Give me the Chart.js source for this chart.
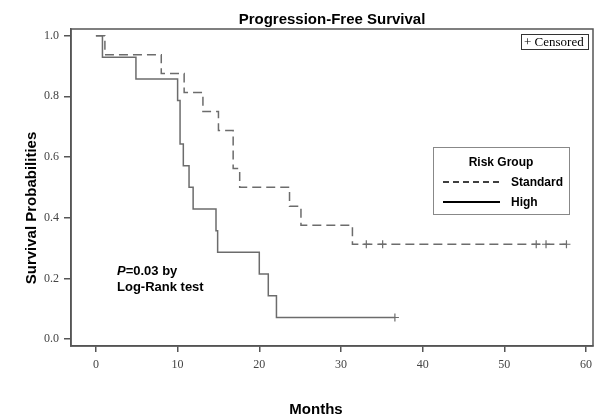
<!DOCTYPE html>
<html>
<head>
<meta charset="utf-8">
<script src="https://cdn.jsdelivr.net/npm/chart.js@4/dist/chart.umd.min.js"></script>
<style>
  html, body { margin: 0; padding: 0; background: #fff; }
  #km-chart { display: block; }
</style>
</head>
<body>
<canvas id="km-chart" width="601" height="417"></canvas>
<script>
// Kaplan-Meier steps (months, survival after the event)
const standardTimes = [0, 1.1, 8.0, 10.8, 13.1, 15.0, 16.8, 17.6, 23.7, 25.1, 31.4, 57.6];
const standardSurv  = [1.0, 0.9375, 0.875, 0.8125, 0.75, 0.6875, 0.5625, 0.5, 0.4375, 0.375, 0.3125, 0.3125];
const highTimes = [0, 0.8, 4.9, 10.0, 10.3, 10.7, 11.4, 11.9, 14.7, 14.9, 20.0, 21.1, 22.1, 36.6];
const highSurv  = [1.0, 0.929, 0.857, 0.786, 0.643, 0.571, 0.5, 0.429, 0.357, 0.286, 0.214, 0.143, 0.071, 0.071];

// censored observations
const standardCensorTimes = [33.1, 35.1, 53.9, 55.1, 57.6];
const standardCensorSurv  = [0.3125, 0.3125, 0.3125, 0.3125, 0.3125];
const highCensorTimes = [36.6];
const highCensorSurv  = [0.071];

const xTicks = [0, 10, 20, 30, 40, 50, 60];
const yTicks = [0, 0.2, 0.4, 0.6, 0.8, 1.0];

const curveColor = '#6c6c6c';
const axisColor = '#555';
const sans = '"Liberation Sans", Arial, sans-serif';
const serif = '"Liberation Serif", "Times New Roman", serif';

function pts(xs, ys) {
  return xs.map((x, i) => ({ x: x, y: ys[i] }));
}

const decor = {
  id: 'decor',
  afterDraw(chart) {
    const ctx = chart.ctx;
    const a = chart.chartArea;
    ctx.save();
    // frame
    ctx.strokeStyle = axisColor;
    ctx.lineWidth = 1.5;
    ctx.strokeRect(a.left, a.top, a.right - a.left, a.bottom - a.top);

    ctx.fillStyle = '#000';
    ctx.textBaseline = 'alphabetic';

    // title
    ctx.font = 'bold 15px ' + sans;
    ctx.textAlign = 'center';
    ctx.fillText('Progression-Free Survival', 332, 24);

    // axis titles
    ctx.fillText('Months', 316, 414);
    ctx.save();
    ctx.translate(36, 208);
    ctx.rotate(-Math.PI / 2);
    ctx.fillText('Survival Probabilities', 0, 0);
    ctx.restore();

    // p-value note
    ctx.textAlign = 'left';
    ctx.font = 'italic bold 13px ' + sans;
    ctx.fillText('P', 117, 275);
    const pw = ctx.measureText('P').width;
    ctx.font = 'bold 13px ' + sans;
    ctx.fillText('=0.03 by', 117 + pw, 275);
    ctx.fillText('Log-Rank test', 117, 291);

    // censored key
    ctx.strokeStyle = '#333';
    ctx.lineWidth = 1;
    ctx.strokeRect(521.5, 34.5, 67, 15);
    ctx.font = '13px ' + serif;
    ctx.fillText('+ Censored', 524, 46);

    // legend box
    ctx.strokeStyle = '#888';
    ctx.strokeRect(433.5, 147.5, 136, 67);
    ctx.font = 'bold 12px ' + sans;
    ctx.textAlign = 'center';
    ctx.fillText('Risk Group', 501, 166);
    ctx.textAlign = 'left';
    ctx.fillText('Standard', 511, 186);
    ctx.fillText('High', 511, 206);
    ctx.strokeStyle = '#000';
    ctx.lineWidth = 1.5;
    ctx.setLineDash([6, 4]);
    ctx.beginPath();
    ctx.moveTo(443, 182);
    ctx.lineTo(500, 182);
    ctx.stroke();
    ctx.setLineDash([]);
    ctx.lineWidth = 2;
    ctx.beginPath();
    ctx.moveTo(443, 202);
    ctx.lineTo(500, 202);
    ctx.stroke();
    ctx.restore();
  }
};

const ctx = document.getElementById('km-chart').getContext('2d');
const chart = new Chart(ctx, {
  type: 'line',
  data: {
    datasets: [
      {
        label: 'Standard',
        data: pts(standardTimes, standardSurv),
        stepped: true,
        borderColor: curveColor,
        borderWidth: 1.5,
        borderDash: [9, 5],
        pointRadius: 0,
        fill: false
      },
      {
        label: 'High',
        data: pts(highTimes, highSurv),
        stepped: true,
        borderColor: curveColor,
        borderWidth: 1.5,
        pointRadius: 0,
        fill: false
      },
      {
        label: 'Standard censored',
        data: pts(standardCensorTimes, standardCensorSurv),
        showLine: false,
        pointStyle: 'cross',
        pointRadius: 4,
        pointBorderWidth: 1.2,
        pointBorderColor: curveColor
      },
      {
        label: 'High censored',
        data: pts(highCensorTimes, highCensorSurv),
        showLine: false,
        pointStyle: 'cross',
        pointRadius: 4,
        pointBorderWidth: 1.2,
        pointBorderColor: curveColor
      }
    ]
  },
  options: {
    responsive: false,
    animation: false,
    layout: { padding: { left: 0, right: 8, top: 29, bottom: 0 } },
    plugins: {
      legend: { display: false },
      title: { display: false },
      tooltip: { enabled: false }
    },
    scales: {
      x: {
        type: 'linear',
        min: -3.05,
        max: 60.85,
        afterBuildTicks: (scale) => { scale.ticks = xTicks.map(v => ({ value: v })); },
        afterFit: (scale) => { scale.height = 71; },
        grid: { drawOnChartArea: false, drawTicks: true, tickLength: 6, color: axisColor, lineWidth: 1.5 },
        border: { display: true, color: axisColor, width: 1.5 },
        ticks: { color: '#444', padding: 6, font: { family: serif, size: 12 } }
      },
      y: {
        type: 'linear',
        min: -0.023,
        max: 1.022,
        afterBuildTicks: (scale) => { scale.ticks = yTicks.map(v => ({ value: v })); },
        afterFit: (scale) => { scale.width = 71; },
        grid: { drawOnChartArea: false, drawTicks: true, tickLength: 7, color: axisColor, lineWidth: 1.5 },
        border: { display: true, color: axisColor, width: 1.5 },
        ticks: {
          color: '#444',
          padding: 5,
          font: { family: serif, size: 12 },
          callback: (v) => Number(v).toFixed(1)
        }
      }
    }
  },
  plugins: [decor]
});
</script>
</body>
</html>
